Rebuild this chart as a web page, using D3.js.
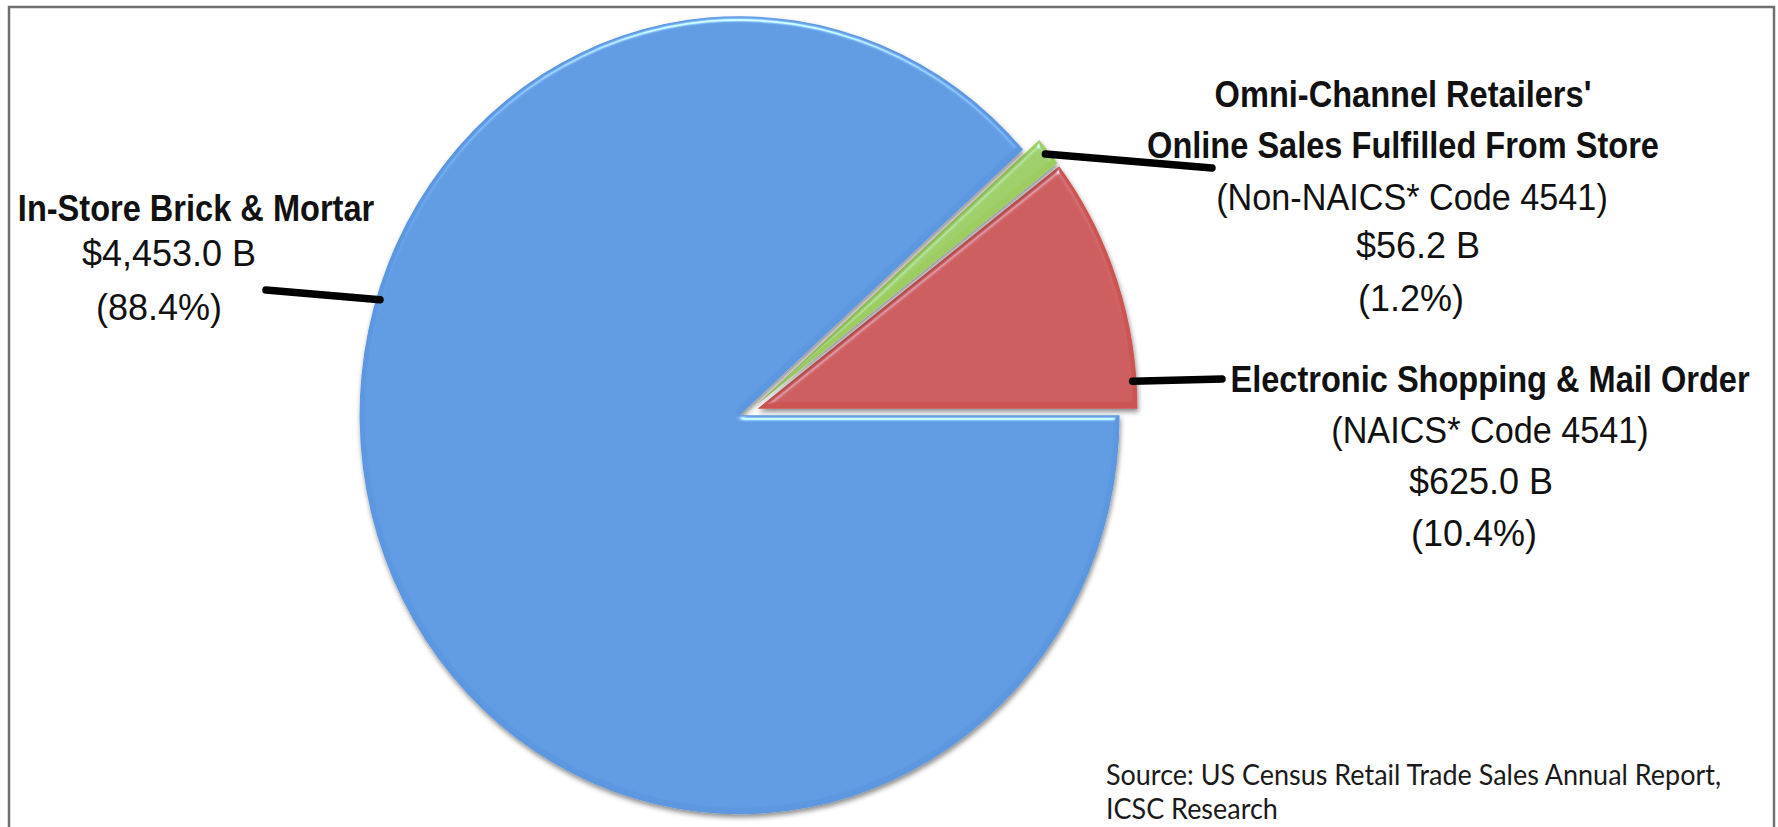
<!DOCTYPE html>
<html>
<head>
<meta charset="utf-8">
<script src="https://cdn.jsdelivr.net/npm/d3@7"></script>
<style>
  html, body { margin: 0; padding: 0; background: #fff; }
  svg { display: block; }
  .lbl { font-family: "Liberation Sans", Arial, sans-serif; fill: #111; }
  .lbl.bold { font-weight: bold; }
  .source { font-family: Lato, "Open Sans", sans-serif; fill: #1a1a1a; }
</style>
</head>
<body>
<svg id="chart" width="1778" height="827"></svg>
<script>

/*
 * DATA
 */

var sliceNames = ['Electronic Shopping & Mail Order', "Omni-Channel Retailers' Online Sales Fulfilled From Store", 'In-Store Brick & Mortar'];
var titleLines = [
  ['Electronic Shopping & Mail Order'],
  ["Omni-Channel Retailers'", 'Online Sales Fulfilled From Store'],
  ['In-Store Brick & Mortar']
];
var codeNotes = ['(NAICS* Code 4541)', '(Non-NAICS* Code 4541)', null];
var salesBillions = [625.0, 56.2, 4453.0];
var sharePercent = [10.4, 1.2, 88.4];
var sourceLines = ['Source: US Census Retail Trade Sales Annual Report,', 'ICSC Research'];

/*
 * LAYOUT / STYLE
 */

var pieCenter = { x: 748, y: 412 };
var rx = 380, ry = 399;
var sliceColors = ['#cc5552', '#9dcc60', '#5b97df'];
var explode = [10, 10, 9];
// angle (degrees, counter-clockwise from 3 o'clock) where each leader leaves its slice
var leaderAngle = [4, null, 163];
var leaderEnd = [[1222, 379], [1212, 168], [266, 290]];
// per-line label positions: x centre and baseline
var labelPos = [
  { x: [1490, 1490, 1481, 1474], y: [392, 443, 494, 546] },
  { x: [1403, 1403, 1412, 1418, 1411], y: [107, 158, 210, 258, 311] },
  { x: [196, 169, 159], y: [221, 266, 320] }
];

var svg = d3.select('#chart');

// frame
svg.append('rect')
  .attr('x', 9).attr('y', 7)
  .attr('width', 1765).attr('height', 900)
  .attr('fill', 'none')
  .attr('stroke', '#6f6f6f')
  .attr('stroke-width', 2.5);

/*
 * FILTERS (bevel + shadow, like the office chart)
 */

var defs = svg.append('defs');

var f = defs.append('filter').attr('id', 'bevel')
  .attr('x', '-10%').attr('y', '-10%').attr('width', '120%').attr('height', '120%');
f.append('feDropShadow')
  .attr('dx', 1).attr('dy', 3).attr('stdDeviation', 2.5)
  .attr('flood-color', '#000').attr('flood-opacity', 0.45)
  .attr('result', 'shadowed');
f.append('feGaussianBlur').attr('in', 'SourceAlpha').attr('stdDeviation', 2.5).attr('result', 'blur');
var spec = f.append('feSpecularLighting')
  .attr('in', 'blur').attr('surfaceScale', 4)
  .attr('specularConstant', 1.1).attr('specularExponent', 35)
  .attr('lighting-color', '#bfe4ff').attr('result', 'spec');
spec.append('feDistantLight').attr('azimuth', 270).attr('elevation', 40);
f.append('feComposite').attr('in', 'spec').attr('in2', 'SourceAlpha').attr('operator', 'in').attr('result', 'specOut');
f.append('feComposite').attr('in', 'shadowed').attr('in2', 'specOut')
  .attr('operator', 'arithmetic').attr('k1', 0).attr('k2', 1).attr('k3', 1).attr('k4', 0);

/*
 * PIE
 */

var pie = d3.pie()
  .sort(null)
  .value(function (d) { return d; })
  .startAngle(Math.PI / 2)
  .endAngle(Math.PI / 2 - 2 * Math.PI);

var arcs = pie(sharePercent);
var arc = d3.arc().innerRadius(0).outerRadius(rx);
var k = ry / rx;

function offsetOf(d, i) {
  var m = (d.startAngle + d.endAngle) / 2;
  return [explode[i] * Math.sin(m), -explode[i] * Math.cos(m)];
}

var pieG = svg.append('g')
  .attr('transform', 'translate(' + pieCenter.x + ',' + pieCenter.y + ')');

var slices = pieG.selectAll('g.slice')
  .data(arcs)
  .enter().append('g')
  .attr('class', 'slice')
  .attr('transform', function (d, i) {
    var o = offsetOf(d, i);
    return 'translate(' + o[0] + ',' + o[1] + ')';
  });

slices.append('path')
  .attr('d', arc)
  .attr('transform', 'scale(1,' + k + ')')
  .attr('fill', function (d, i) { return sliceColors[i]; })
  .attr('filter', 'url(#bevel)');

/*
 * LEADER LINES
 */

arcs.forEach(function (d, i) {
  var a = leaderAngle[i] == null
    ? (d.startAngle + d.endAngle) / 2
    : Math.PI / 2 - leaderAngle[i] * Math.PI / 180;
  var o = offsetOf(d, i);
  var r = rx - 4;
  var x0 = pieCenter.x + o[0] + r * Math.sin(a);
  var y0 = pieCenter.y + o[1] - r * Math.cos(a) * k;
  svg.append('line')
    .attr('x1', x0).attr('y1', y0)
    .attr('x2', leaderEnd[i][0]).attr('y2', leaderEnd[i][1])
    .attr('stroke', '#000')
    .attr('stroke-width', 7.5)
    .attr('stroke-linecap', 'round');
});

/*
 * LABELS
 */

var fmtMoney = d3.format(',.1f');

sliceNames.forEach(function (name, i) {
  var lines = [];
  titleLines[i].forEach(function (t) { lines.push({ text: t, bold: true }); });
  if (codeNotes[i]) lines.push({ text: codeNotes[i], bold: false });
  lines.push({ text: '$' + fmtMoney(salesBillions[i]) + ' B', bold: false });
  lines.push({ text: '(' + sharePercent[i].toFixed(1) + '%)', bold: false });

  lines.forEach(function (ln, j) {
    // horizontal squeeze: the bold titles are narrow in the original
    var squeeze = ln.bold ? 0.88 : (ln.text.charAt(0) === '(' && ln.text.length > 10 ? 0.95 : 1);
    svg.append('text')
      .attr('class', 'lbl' + (ln.bold ? ' bold' : ''))
      .attr('transform', 'translate(' + labelPos[i].x[j] + ',' + labelPos[i].y[j] + ') scale(' + squeeze + ',1)')
      .attr('text-anchor', 'middle')
      .style('font-size', ln.bold ? '37px' : '36px')
      .text(ln.text);
  });
});

// source note
svg.selectAll('text.source')
  .data(sourceLines)
  .enter().append('text')
  .attr('class', 'source')
  .attr('transform', function (d, i) { return 'translate(1106,' + (785 + i * 34) + ') scale(0.93,1)'; })
  .style('font-size', '29px')
  .text(function (d) { return d; });

</script>
</body>
</html>
